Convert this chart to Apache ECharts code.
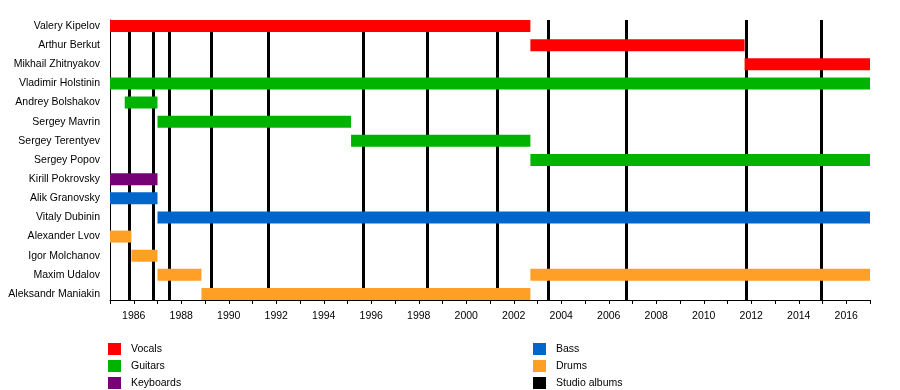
<!DOCTYPE html>
<html>
<head>
<meta charset="utf-8">
<script src="https://cdn.jsdelivr.net/npm/echarts@6/dist/echarts.min.js"></script>
<style>html,body{margin:0;padding:0;background:#fff;}#c{width:900px;height:390px;}</style>
</head>
<body>
<div id="c"></div>
<script>
const members = ["Valery Kipelov","Arthur Berkut","Mikhail Zhitnyakov","Vladimir Holstinin","Andrey Bolshakov","Sergey Mavrin","Sergey Terentyev","Sergey Popov","Kirill Pokrovsky","Alik Granovsky","Vitaly Dubinin","Alexander Lvov","Igor Molchanov","Maxim Udalov","Aleksandr Maniakin"];
const vocals = [[1985, 2002.7, "Valery Kipelov"], [2002.7, 2011.72, "Arthur Berkut"], [2011.72, 2017, "Mikhail Zhitnyakov"]];
const guitars = [[1985, 2017, "Vladimir Holstinin"], [1985.62, 1987.0, "Andrey Bolshakov"], [1987.0, 1995.15, "Sergey Mavrin"], [1995.15, 2002.7, "Sergey Terentyev"], [2002.7, 2017, "Sergey Popov"]];
const keyboards = [[1985, 1987.0, "Kirill Pokrovsky"]];
const bass = [[1985, 1987.0, "Alik Granovsky"], [1987.0, 2017, "Vitaly Dubinin"]];
const drums = [[1985, 1985.9, "Alexander Lvov"], [1985.9, 1987.0, "Igor Molchanov"], [1987.0, 1988.85, "Maxim Udalov"], [2002.7, 2017, "Maxim Udalov"], [1988.85, 2002.7, "Aleksandr Maniakin"]];
const albums = [1985.81, 1986.82, 1987.50, 1989.28, 1991.67, 1995.67, 1998.36, 2001.31, 2003.45, 2006.74, 2011.78, 2014.94];
const xMin = 1985, xMax = 2017;

const FONT = '"Liberation Sans", Arial, sans-serif';
const FS = 10.5;
const BAR_H = 12;
const rowUnit = (300 - 20 - BAR_H) / (members.length - 1);
const pad = (BAR_H / 2) / rowUnit;

function toData(arr) { return arr.map(d => [d[0], d[1], members.indexOf(d[2])]); }
function renderBar(params, api) {
  const s = api.coord([api.value(0), api.value(2)]);
  const e = api.coord([api.value(1), api.value(2)]);
  return { type: 'rect', shape: { x: s[0], y: s[1] - BAR_H / 2, width: e[0] - s[0], height: BAR_H }, style: { fill: api.visual('color') } };
}
function barSeries(name, color, arr) {
  return { name: name, type: 'custom', renderItem: renderBar, encode: { x: [0, 1], y: 2 }, data: toData(arr), itemStyle: { color: color }, z: 10, animation: false, silent: true };
}
const legendCommon = { orient: 'vertical', top: 343, height: 47, padding: 0, icon: 'rect', itemWidth: 13, itemHeight: 12, itemGap: 5, selectedMode: false,
  textStyle: { fontSize: FS, color: '#000', fontFamily: FONT, lineHeight: 12, padding: [0, 0, 0, 5] } };

const chart = echarts.init(document.getElementById('c'), null, { renderer: 'canvas' });
chart.setOption({
  animation: false,
  backgroundColor: '#fff',
  textStyle: { fontFamily: FONT },
  grid: { left: 110, right: 30, top: 20, bottom: 90 },
  xAxis: {
    type: 'value', min: xMin, max: xMax, interval: 1,
    axisLine: { onZero: false, lineStyle: { color: '#000', width: 1 } },
    axisTick: { length: 4, lineStyle: { color: '#000' } },
    axisLabel: { color: '#000', fontSize: FS, fontFamily: FONT, margin: 11, formatter: v => (v % 2 === 0 ? String(v) : '') },
    splitLine: { show: false }
  },
  yAxis: {
    type: 'value', inverse: true, min: -pad, max: members.length - 1 + pad,
    axisLine: { show: true, onZero: false, lineStyle: { color: '#000', width: 1 } },
    axisTick: { show: false },
    axisLabel: { color: '#000', fontSize: FS, fontFamily: FONT, margin: 10, customValues: members.map((m, i) => i), formatter: v => members[Math.round(v)] || '' },
    splitLine: { show: false }
  },
  legend: [
    Object.assign({ data: ['Vocals', 'Guitars', 'Keyboards'], left: 108 }, legendCommon),
    Object.assign({ data: ['Bass', 'Drums', 'Studio albums'], left: 533 }, legendCommon)
  ],
  series: [
    {
      name: 'Studio albums', type: 'line', data: [], itemStyle: { color: '#000' }, lineStyle: { color: '#000' }, z: 1,
      markLine: { z: 1, silent: true, symbol: 'none', label: { show: false }, lineStyle: { color: '#000', width: 3, type: 'solid' }, data: albums.map(a => ({ xAxis: a })) }
    },
    barSeries('Vocals', '#FF0000', vocals),
    barSeries('Guitars', '#00B300', guitars),
    barSeries('Keyboards', '#760076', keyboards),
    barSeries('Bass', '#0066CC', bass),
    barSeries('Drums', '#FF9F26', drums)
  ]
});
</script>
</body>
</html>
